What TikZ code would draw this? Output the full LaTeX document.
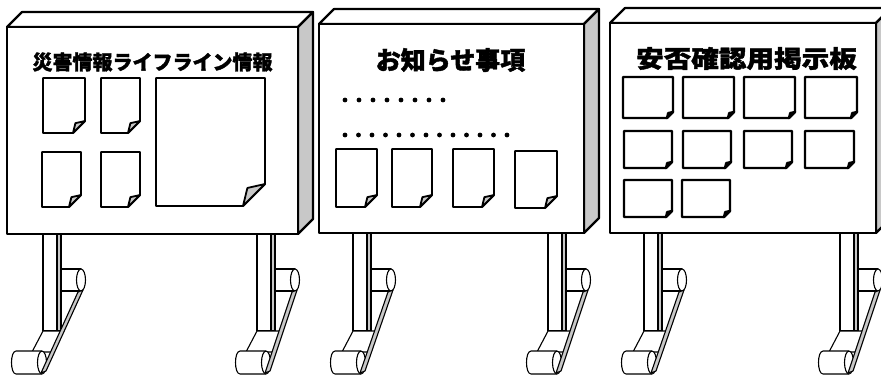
\documentclass[tikz,border=0pt]{standalone}
\usepackage{fontspec}
\usepackage{graphicx}
\newfontfamily\jp{Noto Sans CJK JP}[BoldFeatures={FakeBold=1.6}]
\definecolor{sidegray}{HTML}{C8C8C8}

\tikzset{
  boardline/.style={line width=2.2pt, line join=round},
  legline/.style={line width=1.1pt, line join=round},
  sheetline/.style={line width=1.8pt, line join=round},
  noteline/.style={line width=2.4pt, line join=round},
  boardtitle/.style={font=\jp\bfseries, inner sep=0pt},
}

% notice board: front face (#1,#2)-(#3,#4), depth #5
\newcommand\noticeboard[5]{%
  \draw[boardline, fill=white] (#1,#2) -- ({#1+#5},{#2-#5}) -- ({#3+#5},{#2-#5}) -- (#3,#2) -- cycle;
  \draw[boardline, fill=sidegray] (#3,#2) -- ({#3+#5},{#2-#5}) -- ({#3+#5},{#4-#5}) -- (#3,#4) -- cycle;
  \draw[boardline, fill=white] (#1,#2) rectangle (#3,#4);
}

% stand leg: post at x=#1, foot cylinder end at x=#2, board bottom #3
\newcommand\standleg[3]{%
  \pgfmathsetmacro\Ux{#1+38}
  \pgfmathsetmacro\Sb{(\Ux-3)+(331-292)/81*((#2-1)-(\Ux-3))+1}
  \pgfmathsetmacro\Sc{(\Ux-3)+(352-292)/81*((#2-1)-(\Ux-3))+1}
  % upper cross bar
  \draw[legline, fill=white] ({#1+16},269) rectangle (\Ux,291);
  \draw[legline, fill=white] (\Ux,280) ellipse [x radius=4.5, y radius=11];
  % post
  \draw[legline, fill=sidegray] ({#1+14},#3) rectangle ({#1+18},331);
  \draw[legline, fill=white] (#1,#3) rectangle ({#1+14},331);
  % foot face
  \draw[legline, fill=white] (#1,331) -- (\Sb,331) -- (\Sc,352) -- ({#1-11},352) -- cycle;
  % foot cylinder
  \draw[legline, fill=white] (#2,351) -- ({#2-26},351)
      .. controls ({#2-32},351) and ({#2-32},374) .. ({#2-26},374) -- (#2,374);
  \draw[legline, fill=white] (#2,362.5) ellipse [x radius=4.5, y radius=11.5];
  % diagonal brace
  \draw[legline, fill=sidegray] ({\Ux-3},292) -- ({\Ux+2},290) -- ({#2+4},371) -- ({#2-1},373) -- cycle;
}

% sheet with curled corner: (#1,#2)-(#3,#4), fold #5, flap colour #6, style #7
\newcommand\sheet[7]{%
  \draw[#7, fill=white] (#1,#2) -- (#3,#2) -- (#3,{#4-#5}) -- ({#3-#5},#4) -- (#1,#4) -- cycle;
  \draw[#7, fill=#6] (#3,{#4-#5}) -- ({#3-0.8*#5},{#4-0.82*#5}) -- ({#3-#5},#4) -- cycle;
}

\begin{document}
\begin{tikzpicture}[x=1pt, y=-1pt]
\useasboundingbox (0,0) rectangle (881,376);

% legs
\standleg{43}{42}{234}
\standleg{257}{266}{234}
\standleg{353}{361}{233}
\standleg{548}{557}{233}
\standleg{644}{652}{233}
\standleg{840}{849}{233}

% boards
\noticeboard{7}{27}{298}{234}{15}
\noticeboard{319}{24}{584}{233}{15}
\noticeboard{610}{23}{876}{233}{15}

% board 1: disaster and lifeline information
\node[boardtitle, font=\jp\bfseries\fontsize{20}{20}\selectfont] (t1) at (152.5,62) {災害情報ライフライン情報};
\sheet{43}{78}{85}{133}{12}{sidegray}{sheetline}
\sheet{101}{78}{140}{133}{12}{sidegray}{sheetline}
\sheet{42}{152}{81}{207}{12}{sidegray}{sheetline}
\sheet{101}{152}{140}{207}{12}{sidegray}{sheetline}
\sheet{156}{78}{265}{206}{22}{sidegray}{sheetline}

% board 2: announcements
\node[boardtitle, font=\jp\bfseries\fontsize{25}{25}\selectfont] (t2) at (450.5,60) {お知らせ事項};
\foreach \i in {0,...,7} \fill ({345+14*\i},100) circle (2.4);
\foreach \i in {0,...,12} \fill ({345+13.5*\i},135) circle (2.4);
\sheet{336}{149}{377}{207}{12}{sidegray}{sheetline}
\sheet{392}{149}{432}{207}{12}{sidegray}{sheetline}
\sheet{453}{149}{494}{207}{12}{sidegray}{sheetline}
\sheet{515}{151}{557}{208}{12}{sidegray}{sheetline}

% board 3: safety confirmation board
\node[boardtitle, font=\jp\bfseries\fontsize{24}{24}\selectfont] (t3) at (746.5,58.5) {\scalebox{1.15}[1]{安否確認用掲示板}};
\sheet{623}{77}{673}{118}{6}{black}{noteline}
\sheet{683}{77}{734}{118}{6}{black}{noteline}
\sheet{744}{77}{795}{118}{6}{black}{noteline}
\sheet{805}{77}{857}{118}{6}{black}{noteline}
\sheet{624}{131}{672}{168}{6}{black}{noteline}
\sheet{683}{131}{731}{168}{6}{black}{noteline}
\sheet{744}{131}{792}{168}{6}{black}{noteline}
\sheet{805}{131}{854}{168}{6}{black}{noteline}
\sheet{624}{180}{672}{217}{6}{black}{noteline}
\sheet{682}{180}{730}{217}{6}{black}{noteline}
\end{tikzpicture}
\end{document}
